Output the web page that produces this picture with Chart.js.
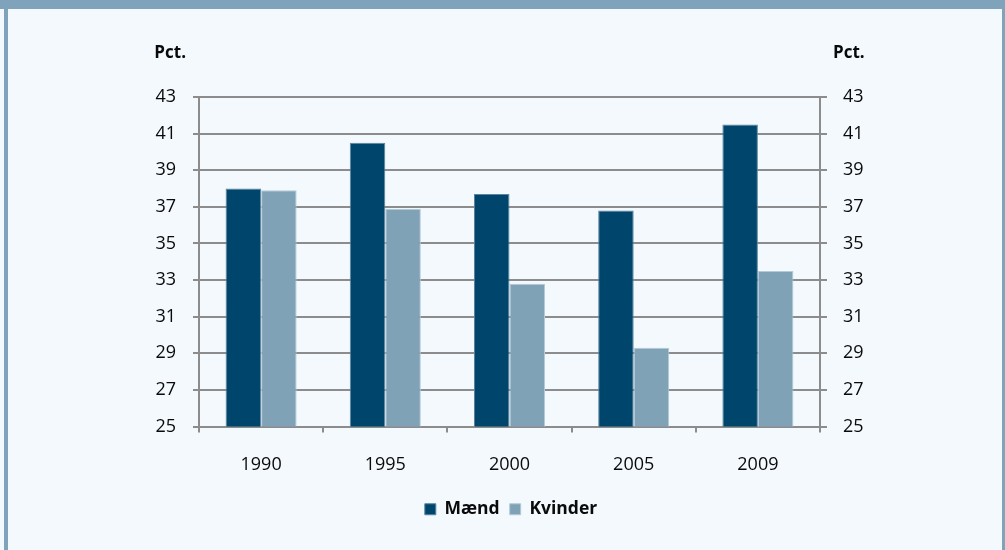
<!DOCTYPE html>
<html>
<head>
<meta charset="utf-8">
<script src="https://cdn.jsdelivr.net/npm/chart.js@4/dist/chart.umd.min.js"></script>
<style>
  html, body { margin: 0; padding: 0; background: #f4f9fd; }
  .topbar { position: absolute; left: 0; top: 0; width: 1005px; height: 9px; background: #7fa3ba; }
  .frame { position: absolute; left: 4px; top: 0; width: 1001px; height: 550px; box-sizing: border-box;
           border-left: 4px solid #7fa3ba; border-right: 3px solid #7fa3ba; }
  .box { position: absolute; left: 8px; top: 9px; width: 994px; height: 541px; }
</style>
</head>
<body>
<div class="topbar"></div>
<div class="frame"></div>
<div class="box"><canvas id="chart"></canvas></div>
<script>
// data ====================================
const years = ["1990", "1995", "2000", "2005", "2009"];
const maend = [38.0, 40.5, 37.7, 36.8, 41.5];
const kvinder = [37.9, 36.9, 32.8, 29.3, 33.5];
const yMin = 25;
const yMax = 43;
const yStep = 2;
const unitLabel = "Pct.";

const FONT = '"Open Sans", "Noto Sans", sans-serif';
const GRID = "#8c8c8c";
const TEXT = "#0a0a0a";

// "Pct." above both value axes
const pctLabels = {
  id: "pctLabels",
  afterDraw(chart) {
    const { ctx, chartArea } = chart;
    ctx.save();
    ctx.font = "bold 17px " + FONT;
    ctx.fillStyle = TEXT;
    ctx.textBaseline = "middle";
    ctx.textAlign = "right";
    ctx.fillText(unitLabel, chartArea.left - 13, chartArea.top - 44);
    ctx.textAlign = "left";
    ctx.fillText(unitLabel, chartArea.right + 13, chartArea.top - 44);
    ctx.restore();
  },
};

const ctx = document.getElementById("chart").getContext("2d");
new Chart(ctx, {
  type: "bar",
  data: {
    labels: years,
    datasets: [
      {
        label: "Mænd",
        data: maend,
        backgroundColor: "#00456b",
        borderColor: "#5b84a0",
        borderWidth: 1,
        categoryPercentage: 0.572,
        barPercentage: 1,
      },
      {
        label: "Kvinder",
        data: kvinder,
        backgroundColor: "#7fa2b7",
        borderColor: "#b3cad9",
        borderWidth: 1,
        categoryPercentage: 0.572,
        barPercentage: 1,
      },
    ],
  },
  options: {
    responsive: true,
    maintainAspectRatio: false,
    animation: false,
    layout: { padding: { top: 88, left: 12, right: 0, bottom: 22 } },
    plugins: {
      title: { display: false },
      tooltip: { enabled: false },
      legend: {
        position: "bottom",
        labels: {
          color: TEXT,
          font: { family: FONT, size: 17.5, weight: "bold" },
          boxWidth: 11,
          boxHeight: 11,
          padding: 10,
        },
      },
    },
    scales: {
      x: {
        grid: { display: true, drawOnChartArea: false, offset: true, color: GRID, lineWidth: 2, tickLength: 6 },
        border: { color: GRID, width: 2 },
        ticks: { color: TEXT, font: { family: FONT, size: 18 }, padding: 22 },
        afterFit: (scale) => { scale.height = 64; },
      },
      y: {
        position: "left",
        min: yMin,
        max: yMax,
        grid: { color: GRID, lineWidth: 2, tickLength: 6 },
        border: { color: GRID, width: 2 },
        ticks: { stepSize: yStep, color: TEXT, font: { family: FONT, size: 18 }, padding: 17 },
        afterFit: (scale) => { scale.width = 179; },
      },
      y2: {
        position: "right",
        min: yMin,
        max: yMax,
        grid: { drawOnChartArea: false, color: GRID, lineWidth: 2, tickLength: 7 },
        border: { color: GRID, width: 2 },
        ticks: { stepSize: yStep, color: TEXT, font: { family: FONT, size: 18 }, padding: 16 },
        afterFit: (scale) => { scale.width = 182; },
      },
    },
  },
  plugins: [pctLabels],
});
</script>
</body>
</html>
